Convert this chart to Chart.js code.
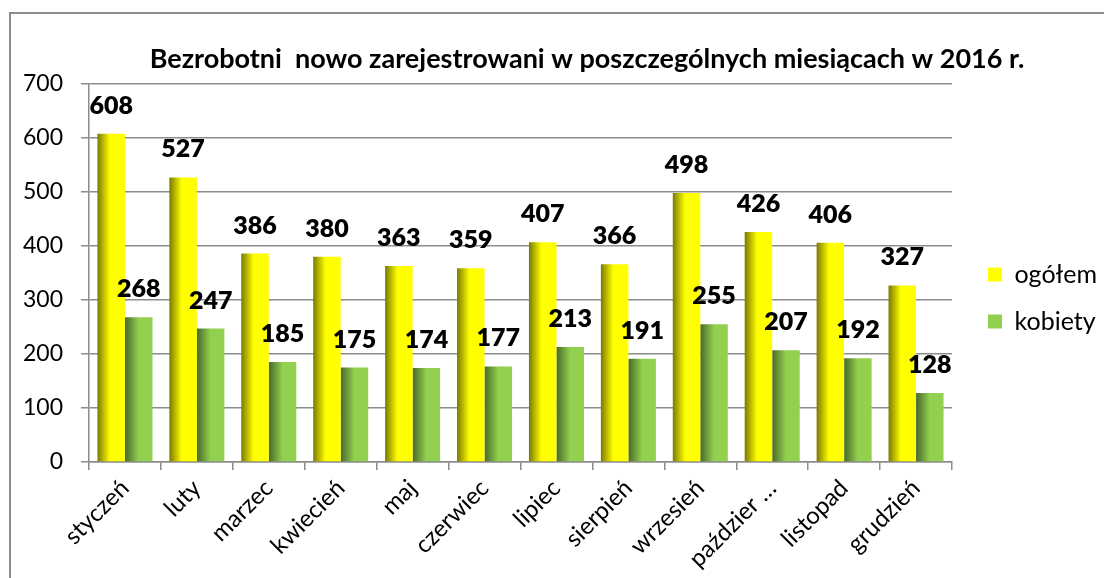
<!DOCTYPE html>
<html>
<head>
<meta charset="utf-8">
<script src="https://cdn.jsdelivr.net/npm/chart.js@4.4.1/dist/chart.umd.min.js"></script>
<style>
  html, body { margin: 0; padding: 0; background: #fff; overflow: hidden; }
  #wrap { position: relative; width: 1104px; height: 578px; }
  #frame { position: absolute; left: 9px; top: 12px; width: 1200px; height: 700px;
           border-left: 2px solid #8c8c8c; border-top: 2px solid #8c8c8c; pointer-events: none; }
  canvas { position: absolute; left: 0; top: 0; }
</style>
</head>
<body>
<div id="wrap">
  <canvas id="c" width="1104" height="578"></canvas>
  <div id="frame"></div>
</div>
<script>
// ---- data ----
const categories = ['styczeń', 'luty', 'marzec', 'kwiecień', 'maj', 'czerwiec', 'lipiec', 'sierpień', 'wrzesień', 'paździer …', 'listopad', 'grudzień'];
const ogolem  = [608, 527, 386, 380, 363, 359, 407, 366, 498, 426, 406, 327];
const kobiety = [268, 247, 185, 175, 174, 177, 213, 191, 255, 207, 192, 128];
const seriesNames = ['ogółem', 'kobiety'];
const yTicks = [0, 100, 200, 300, 400, 500, 600, 700];
const titleText = 'Bezrobotni  nowo zarejestrowani w poszczególnych miesiącach w 2016 r.';

// ---- style ----
const CAT_PCT = 0.765;
const FONT = 'Lato';
const yellowStops = [[0, '#7a7a00'], [0.45, '#ffff00'], [1, '#ffff00']];
const greenStops  = [[0, '#48692a'], [0.5, '#92d050'], [1, '#92d050']];
const LEGEND_W = 152;
const LEGEND_BOX_X = 988;

function makeGradient(context, stops) {
  const chart = context.chart;
  const c = chart.ctx;
  let x0, x1;
  if (context.type === 'data' && chart.scales.x && chart.chartArea) {
    const xs = chart.scales.x;
    const center = xs.getPixelForValue(context.dataIndex);
    const cat = xs.width / categories.length;
    const bw = cat * CAT_PCT / 2;
    x0 = center - cat * CAT_PCT / 2 + context.datasetIndex * bw;
    x1 = x0 + bw;
  } else {
    x0 = LEGEND_BOX_X; x1 = LEGEND_BOX_X + 14;
  }
  const g = c.createLinearGradient(x0, 0, x1, 0);
  stops.forEach(s => g.addColorStop(s[0], s[1]));
  return g;
}

const valueLabels = {
  id: 'valueLabels',
  afterDatasetsDraw(chart) {
    const c = chart.ctx;
    c.save();
    c.font = '800 25px ' + FONT;
    c.fillStyle = '#000';
    c.textAlign = 'center';
    c.textBaseline = 'alphabetic';
    chart.data.datasets.forEach((ds, di) => {
      const meta = chart.getDatasetMeta(di);
      meta.data.forEach((el, i) => {
        c.fillText(String(ds.data[i]), el.x, el.y - 20);
      });
    });
    c.restore();
  }
};

const layoutTweaks = {
  id: 'layoutTweaks',
  beforeUpdate(chart) {
    const lg = chart.legend;
    if (lg && !lg._patched) {
      const orig = lg.fit;
      lg.fit = function () {
        orig.call(this);
        if (!this.isHorizontal()) this.width = LEGEND_W;
      };
      lg._patched = true;
    }
  },
  afterLayout(chart) {
    if (chart.titleBlock) { chart.titleBlock.left += 70; }
    if (chart.legend) {
      const dx = LEGEND_BOX_X - (chart.legend.left + 22);
      chart.legend.left += dx;
      chart.legend.right += dx;
      chart.legend.top += 9;
      chart.legend.bottom += 9;
    }
  }
};

new Chart(document.getElementById('c'), {
  type: 'bar',
  data: {
    labels: categories,
    datasets: [
      { label: seriesNames[0], data: ogolem,
        backgroundColor: (ctx) => makeGradient(ctx, yellowStops), borderWidth: 0 },
      { label: seriesNames[1], data: kobiety,
        backgroundColor: (ctx) => makeGradient(ctx, greenStops), borderWidth: 0 }
    ]
  },
  options: {
    responsive: false,
    animation: false,
    devicePixelRatio: 1,
    layout: { padding: { left: 0, right: 0, top: 0, bottom: 0 } },
    datasets: { bar: { categoryPercentage: CAT_PCT, barPercentage: 1 } },
    plugins: {
      title: {
        display: true, text: titleText, color: '#000',
        font: { family: FONT, size: 27, weight: 'bold' },
        padding: { top: 43, bottom: 8.6 }
      },
      legend: {
        position: 'right',
        align: 'center',
        labels: {
          color: '#000',
          font: { family: FONT, size: 25 },
          boxWidth: 14, boxHeight: 14,
          padding: 22
        }
      },
      tooltip: { enabled: false }
    },
    scales: {
      x: {
        offset: true,
        grid: { offset: true, drawOnChartArea: false, drawTicks: true, tickLength: 8, color: '#8c8c8c', lineWidth: 1.5 },
        border: { display: true, color: '#8c8c8c', width: 1.5 },
        ticks: {
          color: '#000', font: { family: FONT, size: 24 },
          minRotation: 45, maxRotation: 45, autoSkip: false, padding: 4
        },
        afterFit(scale) { scale.height = 116; }
      },
      y: {
        min: 0, max: 700,
        afterBuildTicks(scale) { scale.ticks = yTicks.map(v => ({ value: v })); },
        grid: { color: '#8c8c8c', lineWidth: 1.5, tickLength: 8 },
        border: { display: true, color: '#8c8c8c', width: 1.5 },
        ticks: { color: '#000', font: { family: FONT, size: 23 }, padding: 18 },
        afterFit(scale) { scale.width = 89; }
      }
    }
  },
  plugins: [valueLabels, layoutTweaks]
});
</script>
</body>
</html>
